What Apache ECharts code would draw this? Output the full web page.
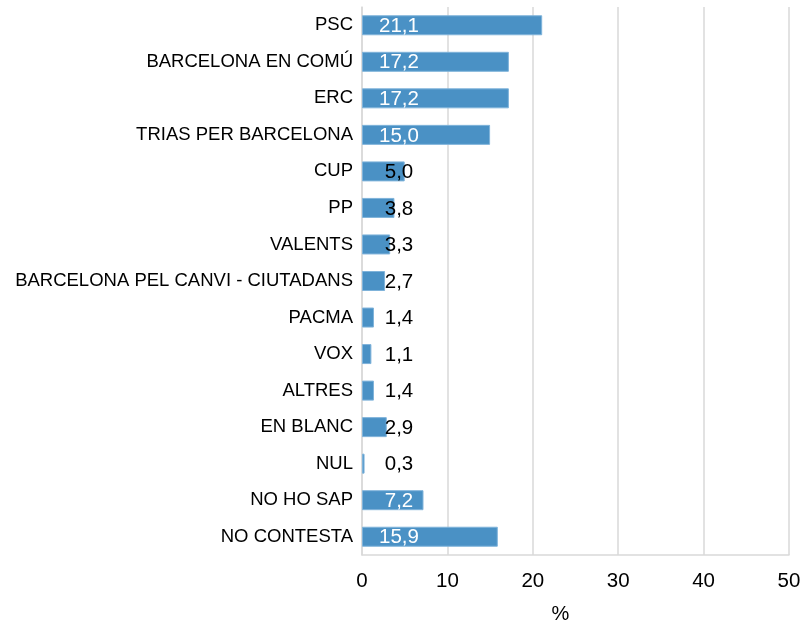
<!DOCTYPE html>
<html>
<head>
<meta charset="utf-8">
<script src="https://cdn.jsdelivr.net/npm/echarts@6/dist/echarts.min.js"></script>
<style>
html,body{margin:0;padding:0;background:#fff;}
#chart{width:804px;height:620px;}
</style>
</head>
<body>
<div id="chart"></div>
<script>
var categories = ['PSC','BARCELONA EN COMÚ','ERC','TRIAS PER BARCELONA','CUP','PP','VALENTS','BARCELONA PEL CANVI - CIUTADANS','PACMA','VOX','ALTRES','EN BLANC','NUL','NO HO SAP','NO CONTESTA'];
var values = [21.1,17.2,17.2,15.0,5.0,3.8,3.3,2.7,1.4,1.1,1.4,2.9,0.3,7.2,15.9];
var xTicks = [0,10,20,30,40,50];

var chart = echarts.init(document.getElementById('chart'), null, {renderer:'canvas'});
var font = 'Liberation Sans, Arial, sans-serif';
var seriesData = values.map(function(v){
  return {value: v, label: {color: v > 6 ? '#ffffff' : '#000000'}};
});
chart.setOption({
  animation: false,
  backgroundColor: '#ffffff',
  grid: {left: 362, right: 15, top: 7, bottom: 65, containLabel: false, outerBoundsMode: 'none'},
  xAxis: {
    type: 'value',
    min: xTicks[0], max: xTicks[xTicks.length-1], interval: 10,
    name: '%',
    nameLocation: 'middle',
    nameGap: 49,
    nameMoveOverlap: false,
    nameTextStyle: {color: '#000', fontSize: 20, fontFamily: font, padding: [0, 30, 0, 0]},
    axisLine: {show: true, lineStyle: {color: '#d9d9d9', width: 1.5}},
    axisTick: {show: false},
    axisLabel: {color: '#000', fontSize: 20.5, fontFamily: font, margin: 16},
    splitLine: {show: true, lineStyle: {color: '#d9d9d9', width: 1.5}}
  },
  yAxis: {
    type: 'category',
    data: categories,
    inverse: true,
    axisLine: {show: true, lineStyle: {color: '#d9d9d9', width: 1.5}},
    axisTick: {show: false},
    axisLabel: {color: '#000', fontSize: 18.5, fontFamily: font, margin: 9}
  },
  series: [{
    type: 'bar',
    data: seriesData,
    barWidth: 20,
    itemStyle: {color: '#4a91c5', borderColor: '#7fb3da', borderWidth: 1},
    label: {
      show: true,
      position: [37, 11],
      align: 'center',
      verticalAlign: 'middle',
      fontSize: 20.5,
      fontFamily: font,
      formatter: function(p){ return p.value.toFixed(1).replace('.', ','); }
    }
  }]
});
</script>
</body>
</html>
